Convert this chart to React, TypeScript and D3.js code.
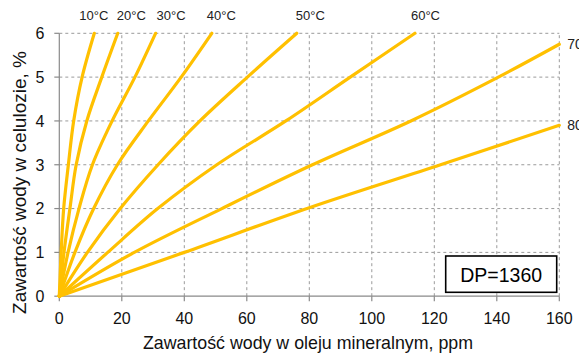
import React from "react";
import * as d3 from "d3";

// Equilibrium curves: water in mineral oil (ppm) vs water in cellulose (%)
const temperatures = ["10°C", "20°C", "30°C", "40°C", "50°C", "60°C", "70°C", "80°C"];

const oilPpm10 = [0, 0.6, 1.4, 2.9, 4.6, 7.3, 11.2];
const paper10 = [0, 1, 2, 3, 4, 5, 6];
const oilPpm20 = [0, 1.5, 3.4, 5.4, 8.8, 13.6, 18.7];
const paper20 = [0, 1, 2, 3, 4, 5, 6];
const oilPpm30 = [0, 2.8, 6.3, 10.6, 16.9, 24.2, 30.8];
const paper30 = [0, 1, 2, 3, 4, 5, 6];
const oilPpm40 = [0, 5, 11, 18.6, 28.5, 39, 48.8];
const paper40 = [0, 1, 2, 3, 4, 5, 6];
const oilPpm50 = [0, 9, 19.5, 31.6, 45, 60.2, 76];
const paper50 = [0, 1, 2, 3, 4, 5, 6];
const oilPpm60 = [0, 15.5, 31.5, 50.4, 72.5, 93.1, 113.8];
const paper60 = [0, 1, 2, 3, 4, 5, 6];
const oilPpm70 = [0, 24, 52, 81, 112.5, 140.5, 160];
const paper70 = [0, 1, 2, 3, 4, 5, 5.75];
const oilPpm80 = [0, 40, 80, 122, 160];
const paper80 = [0, 1, 2.02, 3, 3.9];

const oilSeries = [oilPpm10, oilPpm20, oilPpm30, oilPpm40, oilPpm50, oilPpm60, oilPpm70, oilPpm80];
const paperSeries = [paper10, paper20, paper30, paper40, paper50, paper60, paper70, paper80];

const xTicks = [0, 20, 40, 60, 80, 100, 120, 140, 160];
const yTicks = [0, 1, 2, 3, 4, 5, 6];

const xTitle = "Zawartość wody w oleju mineralnym, ppm";
const yTitle = "Zawartość wody w celulozie, %";
const boxLabel = "DP=1360";

// label placement: curves ending at the top get a label above the frame,
// curves ending at the right edge get a label beside it
const labelDx = [-15, -1, 1, -5, -1, -4, 8, 8];

const W = 579;
const H = 356;
const M = { left: 59.3, right: 19.7, top: 33.3, bottom: 59.8 };
const FONT = "'Liberation Sans', Arial, sans-serif";
const GOLD = "#FFC000";

export default function App() {
  const x = d3.scaleLinear().domain([0, 160]).range([M.left, W - M.right]);
  const y = d3.scaleLinear().domain([0, 6]).range([H - M.bottom, M.top]);

  // smooth parametric spline through the measured points
  const line = d3
    .line<[number, number]>()
    .x((d) => x(d[0]))
    .y((d) => y(d[1]))
    .curve(d3.curveCatmullRom.alpha(0.5));

  const series = oilSeries.map((xs, i) => xs.map((v, j) => [v, paperSeries[i][j]] as [number, number]));

  return (
    <svg
      width={W}
      height={H}
      style={{ position: "absolute", left: 0, top: 0, background: "#fff" }}
      fontFamily={FONT}
    >
      <rect x={0} y={0} width={W} height={H} fill="#fff" />

      {/* dashed grid */}
      {xTicks.slice(1).map((t) => (
        <line
          key={"gx" + t}
          x1={x(t)}
          x2={x(t)}
          y1={y(0)}
          y2={y(6)}
          stroke="#9a9a9a"
          strokeWidth={1}
          strokeDasharray="3,3"
        />
      ))}
      {yTicks.slice(1).map((t) => (
        <line
          key={"gy" + t}
          x1={x(0)}
          x2={x(160)}
          y1={y(t)}
          y2={y(t)}
          stroke="#9a9a9a"
          strokeWidth={1}
          strokeDasharray="3,3"
        />
      ))}

      {/* axes */}
      <line x1={x(0)} x2={x(160)} y1={y(0)} y2={y(0)} stroke="#8a8a8a" strokeWidth={1.2} />
      <line x1={x(0)} x2={x(0)} y1={y(0)} y2={y(6)} stroke="#8a8a8a" strokeWidth={1.2} />
      {xTicks.map((t) => (
        <g key={"tx" + t}>
          <line x1={x(t)} x2={x(t)} y1={y(0)} y2={y(0) + 5} stroke="#8a8a8a" strokeWidth={1.2} />
          <text x={x(t)} y={y(0) + 28} textAnchor="middle" fontSize={16} fill="#111">
            {t}
          </text>
        </g>
      ))}
      {yTicks.map((t) => (
        <g key={"ty" + t}>
          <line x1={x(0) - 5} x2={x(0)} y1={y(t)} y2={y(t)} stroke="#8a8a8a" strokeWidth={1.2} />
          <text x={x(0) - 15} y={y(t) + 5.8} textAnchor="end" fontSize={16} fill="#111">
            {t}
          </text>
        </g>
      ))}

      {/* curves */}
      {series.map((pts, i) => (
        <path
          key={temperatures[i]}
          d={line(pts) || ""}
          fill="none"
          stroke={GOLD}
          strokeWidth={3.2}
          strokeLinecap="round"
          strokeLinejoin="round"
        />
      ))}

      {/* temperature labels */}
      {series.map((pts, i) => {
        const last = pts[pts.length - 1];
        const atTop = last[1] >= 6;
        if (atTop) {
          return (
            <text key={"l" + i} x={x(last[0]) + labelDx[i]} y={20} fontSize={13} fill="#222">
              {temperatures[i]}
            </text>
          );
        }
        return (
          <text key={"l" + i} x={x(last[0]) + labelDx[i]} y={y(last[1]) + 5} fontSize={14} fill="#222">
            {temperatures[i]}
          </text>
        );
      })}

      {/* DP annotation */}
      <rect x={445.7} y={256} width={111} height={36.3} fill="#fff" stroke="#000" strokeWidth={1.6} />
      <text x={501.2} y={281.5} textAnchor="middle" fontSize={19.5} fill="#000">
        {boxLabel}
      </text>

      {/* axis titles */}
      <text x={308} y={348.5} textAnchor="middle" fontSize={17.8} fill="#111">
        {xTitle}
      </text>
      <text
        transform={`translate(26, 182.5) rotate(-90)`}
        textAnchor="middle"
        fontSize={19}
        fill="#111"
      >
        {yTitle}
      </text>
    </svg>
  );
}
